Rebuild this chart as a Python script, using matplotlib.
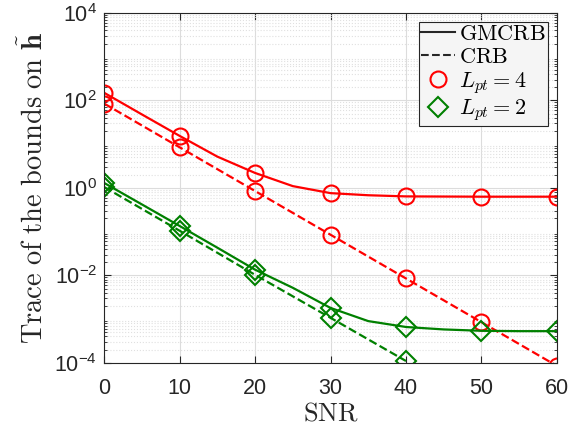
import matplotlib.pyplot as plt
from matplotlib.lines import Line2D
from matplotlib.ticker import LogLocator, NullFormatter

plt.rcParams['font.family'] = ['Liberation Sans', 'DejaVu Sans']
plt.rcParams['mathtext.fontset'] = 'cm'

# curves sampled every 5 dB, markers every 10 dB
snr_fine = [0, 5, 10, 15, 20, 25, 30, 35, 40, 45, 50, 55, 60]
gmcrb_4 = [150, 48, 15.5, 5.2, 2.2, 1.1, 0.76, 0.68, 0.64, 0.635, 0.63, 0.63, 0.63]
gmcrb_2 = [1.3, 0.42, 0.135, 0.043, 0.0135, 0.0052, 0.0018, 0.0009, 0.00066, 0.00058, 0.00054, 0.00053, 0.00053]

snr_4 = [0, 10, 20, 30, 40, 50, 60]
crb_4 = [85, 8.5, 0.85, 0.085, 0.0085, 0.00085, 0.000085]
snr_2 = [0, 10, 20, 30, 40]
crb_2 = [1.05, 0.105, 0.0103, 0.00107, 0.00011]

red = '#ff0000'
green = '#008000'
dark = '#262626'

fig = plt.figure(figsize=(5.85, 4.34), dpi=100)
ax = fig.add_axes([0.178, 0.164, 0.774, 0.806])

ms = 11.5
mew = 1.5
ax.plot(snr_fine, gmcrb_4, '-', color=red, lw=1.6)
ax.plot(snr_fine[::2], gmcrb_4[::2], 'o', color=red, mfc='none', ms=ms, mew=mew)
ax.plot(snr_4, crb_4, '--', color=red, lw=1.6)
ax.plot(snr_4, crb_4, 'o', color=red, mfc='none', ms=ms, mew=mew)

ax.plot(snr_fine, gmcrb_2, '-', color=green, lw=1.6)
ax.plot(snr_fine[::2], gmcrb_2[::2], 'D', color=green, mfc='none', ms=ms * 0.85, mew=mew)
ax.plot(snr_2, crb_2, '--', color=green, lw=1.6)
ax.plot(snr_2, crb_2, 'D', color=green, mfc='none', ms=ms * 0.85, mew=mew)

ax.set_yscale('log')
ax.set_xlim(0, 60)
ax.set_ylim(1e-4, 1e4)
ax.set_xticks([0, 10, 20, 30, 40, 50, 60])
ax.set_yticks([1e-4, 1e-2, 1e0, 1e2, 1e4])
ax.yaxis.set_minor_locator(LogLocator(base=10, subs=range(2, 10), numticks=20))
ax.yaxis.set_minor_formatter(NullFormatter())

ax.tick_params(which='both', direction='in', top=True, right=True, colors=dark)
ax.tick_params(which='major', labelsize=15.5, length=5)
ax.tick_params(axis='x', which='major', pad=11)
ax.tick_params(axis='y', which='major', pad=5)
ax.tick_params(which='minor', length=2.5)
for s in ax.spines.values():
    s.set_color(dark)
    s.set_linewidth(0.8)

ax.grid(True, which='major', color='#dcdcdc', lw=0.8)
ax.grid(True, which='minor', axis='y', color='#e0e0e0', ls=':', lw=0.8)
ax.set_axisbelow(True)

ax.set_xlabel(r'$\mathrm{SNR}$', fontsize=19, color=dark, labelpad=2)
ax.set_ylabel(r'$\mathrm{Trace\ of\ the\ bounds\ on\ }\tilde{\mathbf{h}}$', fontsize=20.5, color=dark, labelpad=4)

handles = [
    Line2D([], [], color=dark, ls='-', lw=1.5),
    Line2D([], [], color=dark, ls='--', lw=1.5),
    Line2D([], [], color=red, ls='none', marker='o', mfc='none', ms=ms, mew=mew),
    Line2D([], [], color=green, ls='none', marker='D', mfc='none', ms=ms * 0.85, mew=mew),
]
labels = [r'$\mathrm{GMCRB}$', r'$\mathrm{CRB}$', r'$L_{pt}=4$', r'$L_{pt}=2$']
leg = ax.legend(handles, labels, loc='upper right', fontsize=16, frameon=True, fancybox=False,
                handlelength=1.5, handletextpad=0.2, borderpad=0.1, labelspacing=0.08,
                borderaxespad=0.4)
leg.get_frame().set_edgecolor(dark)
leg.get_frame().set_facecolor('#f5f5f5')
leg.get_frame().set_linewidth(0.8)
leg.get_frame().set_alpha(1)

fig.savefig('out.png', dpi=100)
